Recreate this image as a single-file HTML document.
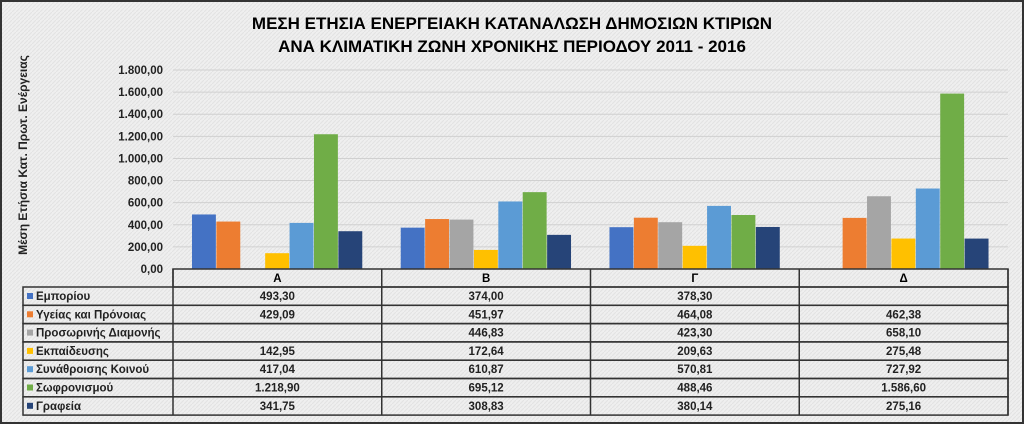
<!DOCTYPE html>
<html><head><meta charset="utf-8"><style>
body{margin:0;width:1024px;height:424px;overflow:hidden;background:#fff}
svg{display:block;font-family:"Liberation Sans",Arial,sans-serif}
</style></head><body>
<svg id="c" width="1024" height="424">
<defs><pattern id="tex" width="4" height="4" patternUnits="userSpaceOnUse"><rect width="4" height="4" fill="#efefef"/><path d="M0 4L4 0" stroke="#e2e2e2" stroke-width="1"/></pattern></defs>
<rect x="1" y="1" width="1022" height="422" fill="url(#tex)" stroke="#333" stroke-width="2"/>
<text x="512" y="29" text-anchor="middle" font-size="17" font-weight="bold">ΜΕΣΗ ΕΤΗΣΙΑ ΕΝΕΡΓΕΙΑΚΗ ΚΑΤΑΝΑΛΩΣΗ ΔΗΜΟΣΙΩΝ ΚΤΙΡΙΩΝ</text>
<text x="512" y="52" text-anchor="middle" font-size="17" font-weight="bold">ΑΝΑ ΚΛΙΜΑΤΙΚΗ ΖΩΝΗ ΧΡΟΝΙΚΗΣ ΠΕΡΙΟΔΟΥ 2011 - 2016</text>
<text transform="translate(27,155) rotate(-90)" text-anchor="middle" font-size="12" font-weight="bold" fill="#222">Μέση Ετήσια Κατ. Πρωτ. Ενέργειας</text>
<g id="grid"></g><g id="bars"></g><g id="table"></g>
</svg>
<script>
const categories=["Α","Β","Γ","Δ"];
const seriesNames=["Εμπορίου","Υγείας και Πρόνοιας","Προσωρινής Διαμονής","Εκπαίδευσης","Συνάθροισης Κοινού","Σωφρονισμού","Γραφεία"];
const seriesColors=["#4472c4","#ed7d31","#a5a5a5","#ffc000","#5b9bd5","#70ad47","#264478"];
const emporiou=[493.30,374.00,378.30,null];
const ygeias=[429.09,451.97,464.08,462.38];
const prosorinis=[null,446.83,423.30,658.10];
const ekpaideusis=[142.95,172.64,209.63,275.48];
const synathroisis=[417.04,610.87,570.81,727.92];
const sofronismou=[1218.90,695.12,488.46,1586.60];
const grafeia=[341.75,308.83,380.14,275.16];
const series=[emporiou,ygeias,prosorinis,ekpaideusis,synathroisis,sofronismou,grafeia];
const yTicks=[0,200,400,600,800,1000,1200,1400,1600,1800];
const NS="http://www.w3.org/2000/svg";
const x0=173,x1=1008,y0=269,yTop=70,yMax=1800;
const gw=(x1-x0)/categories.length;
const y=v=>y0-(v/yMax)*(y0-yTop);
const fmt=v=>{if(v==null)return "";let s=v.toFixed(2).split(".");let i=s[0].replace(/\B(?=(\d{3})+(?!\d))/g,".");return i+","+s[1];};
function el(t,a,p){const e=document.createElementNS(NS,t);for(const k in a)e.setAttribute(k,a[k]);p.appendChild(e);return e;}
const grid=document.getElementById("grid"),bars=document.getElementById("bars"),tb=document.getElementById("table");
yTicks.forEach(t=>{
 const l=el("line",{x1:x0,x2:x1,y1:y(t),y2:y(t),stroke:"#d0d0d0","stroke-width":1},grid);
 
 
 const tx=el("text",{x:163,y:y(t)+4,"text-anchor":"end","font-size":"11.5","font-weight":"bold",fill:"#222"},grid);
 tx.textContent=fmt(t);
 
 
});
const bw=24.4,pad=(gw-bw*7)/2;
categories.forEach((c,ci)=>{
 series.forEach((s,si)=>{
  const v=s[ci]; if(v==null)return;
  const r=el("rect",{x:x0+ci*gw+pad+si*bw,y:y(v),width:bw-0.5,height:y0-y(v),fill:seriesColors[si]},bars);
  
  
 });
});
// table
const rh=18.3,hy=269,ry=287,tl=23;
const hdr=el("rect",{x:x0,y:hy,width:x1-x0,height:ry-hy,fill:"none",stroke:"#333","stroke-width":1.5},tb);


categories.forEach((c,ci)=>{
 const t=el("text",{x:x0+ci*gw+gw/2,y:hy+13,"text-anchor":"middle","font-size":"11.5","font-weight":"bold"},tb);
 t.textContent=c;
 
 
});
seriesNames.forEach((n,si)=>{
 const yy=ry+si*rh;
 const r=el("rect",{x:tl,y:yy,width:x1-tl,height:rh,fill:"none",stroke:"#333","stroke-width":1.5},tb);
 
 
 const k=el("rect",{x:tl+4,y:yy+6,width:6,height:6,fill:seriesColors[si]},tb);
 
 
 const t=el("text",{x:tl+13,y:yy+13,"font-size":"11.5","font-weight":"bold",fill:"#222"},tb);
 t.textContent=n;
 
 
 categories.forEach((c,ci)=>{
  const tv=el("text",{x:x0+ci*gw+gw/2,y:yy+13,"text-anchor":"middle","font-size":"11.5","font-weight":"bold",fill:"#222"},tb);
  tv.textContent=fmt(series[si][ci]);
  
  
 });
});
for(let i=0;i<=categories.length;i++){
 const l=el("line",{x1:x0+i*gw,x2:x0+i*gw,y1:hy,y2:ry+7*rh,stroke:"#333","stroke-width":1.5},tb);
 
 
}
</script>
</body></html>
